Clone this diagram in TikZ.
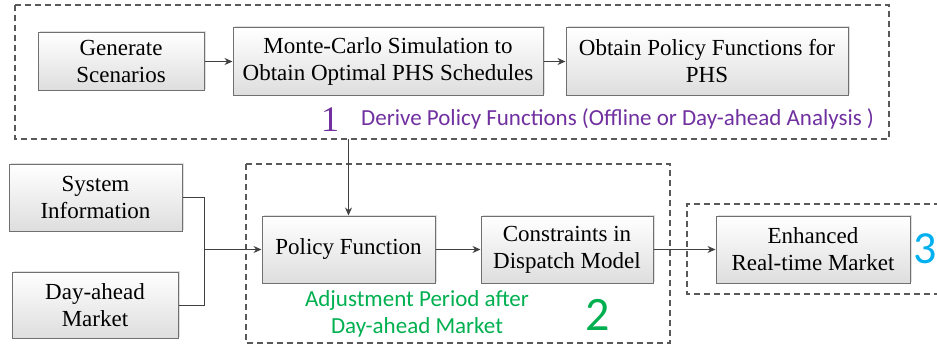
\documentclass[tikz,border=0pt]{standalone}
\usepackage{fontspec}
\setmainfont{Liberation Serif}
\newfontfamily\calib{Carlito}
\usetikzlibrary{arrows.meta,shadows}
\definecolor{boxline}{HTML}{707070}
\definecolor{dashline}{HTML}{595959}
\definecolor{arrline}{HTML}{404040}
\definecolor{purp}{HTML}{7030A0}
\definecolor{grn}{HTML}{00B050}
\definecolor{blu}{HTML}{00B0F0}
\tikzset{
  procbox/.style={draw=boxline, line width=1pt, top color=white, bottom color=black!13,
    drop shadow={shadow xshift=1.5pt, shadow yshift=1.5pt, opacity=0.25},
    align=center, inner sep=0pt, font=\fontsize{23}{27}\selectfont},
  arr/.style={draw=arrline, line width=1pt, -{Stealth[length=8pt,width=7pt]}},
  conn/.style={draw=arrline, line width=1pt},
  dashbox/.style={draw=dashline, line width=1.2pt, dash pattern=on 6pt off 4pt},
}
\begin{document}
\begin{tikzpicture}[x=1pt,y=-1pt]
\useasboundingbox (0,0) rectangle (937,345);
% dashed regions
\draw[dashbox] (15,5) rectangle (889,139);
\draw[dashbox] (246,164) rectangle (670,343);
\draw[dashbox] (940,204) -- (687,204) -- (687,294) -- (940,294);
% boxes
\node[procbox, minimum width=166pt, minimum height=57pt] (gen) at (121,61.5) {Generate\\Scenarios};
\node[procbox, minimum width=310pt, minimum height=67pt] (mc) at (388,61.5) {Monte-Carlo Simulation to\\Obtain Optimal PHS Schedules};
\node[procbox, minimum width=282pt, minimum height=67pt] (opf) at (707,61.5) {Obtain Policy Functions for\\PHS};
\node[procbox, minimum width=173pt, minimum height=67pt] (si) at (95.5,197.5) {System\\Information};
\node[procbox, minimum width=166pt, minimum height=66pt] (da) at (95,305) {Day-ahead\\Market};
\node[procbox, minimum width=173pt, minimum height=67pt] (pf) at (348.5,249.5) {Policy Function};
\node[procbox, minimum width=172pt, minimum height=67pt] (cd) at (567,249.5) {Constraints in\\Dispatch Model};
\node[procbox, minimum width=194pt, minimum height=67pt] (em) at (813,249.5) {Enhanced\\Real-time Market};
% labels
\node[text=purp, font=\fontsize{36}{36}\selectfont, inner sep=0pt] (n1) at (330,120) {1};
\node[text=purp, font=\calib\fontsize{23}{27}\selectfont, anchor=west, inner sep=0pt] (l1) at (361,119) {Derive Policy Functions (Offline or Day-ahead Analysis )};
\node[text=grn, font=\calib\fontsize{23}{27}\selectfont, align=center, inner sep=0pt] (l2) at (417,314) {Adjustment Period after\\Day-ahead Market};
\node[text=grn, font=\calib\fontsize{48}{48}\selectfont, inner sep=0pt] (n2) at (598,315) {2};
\node[text=blu, font=\calib\fontsize{46}{46}\selectfont, inner sep=0pt] (n3) at (925,249) {3};
% connectors
\draw[arr] (gen) -- (mc);
\draw[arr] (mc) -- (opf);
\coordinate (t1) at (348.5,139);
\draw[arr] (t1) -- (pf.north);
\coordinate (j) at (204.5,249.5);
\draw[conn] (si.east) -| (j);
\draw[conn] (da.east) -| (j);
\draw[arr] (j) -- (pf.west);
\draw[arr] (pf) -- (cd);
\draw[arr] (cd) -- (em);
\end{tikzpicture}
\end{document}
